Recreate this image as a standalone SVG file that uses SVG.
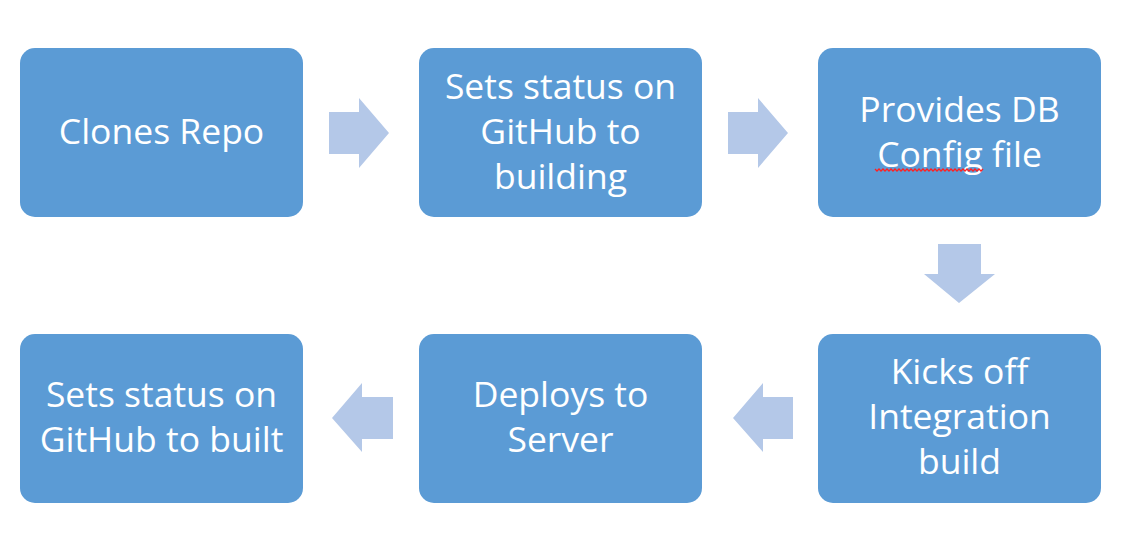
<svg xmlns="http://www.w3.org/2000/svg" width="1127" height="548" viewBox="0 0 1127 548">
<style>
.box{fill:#5B9BD5}
.arr{fill:#B4C8E8}
.t{font-family:"Open Sans","Liberation Sans",sans-serif;font-size:35.5px;fill:#ffffff;text-anchor:middle}
</style>
<rect width="1127" height="548" fill="#ffffff"/>
<g id="n1"><rect class="box" x="20" y="48" width="283" height="169" rx="15"/><text class="t" x="161.5" y="144">Clones Repo</text></g>
<g id="n2"><rect class="box" x="419" y="48" width="283" height="169" rx="15"/><text class="t" x="560.5" y="99">Sets status on</text><text class="t" x="560.5" y="144">GitHub to</text><text class="t" x="560.5" y="189">building</text></g>
<g id="n3"><rect class="box" x="818" y="48" width="283" height="169" rx="15"/><text class="t" x="959.5" y="121.5">Provides DB</text><text class="t" x="959.5" y="166.5">Config file</text><polyline points="875,169 877,171 879,169 881,171 883,169 885,171 887,169 889,171 891,169 893,171 895,169 897,171 899,169 901,171 903,169 905,171 907,169 909,171 911,169 913,171 915,169 917,171 919,169 921,171 923,169 925,171 927,169 929,171 931,169 933,171 935,169 937,171 939,169 941,171 943,169 945,171 947,169 949,171 951,169 953,171 955,169 957,171 959,169 961,171 963,169 965,171 967,169 969,171 971,169 973,171 975,169 977,171 979,169 981,171 983,169" fill="none" stroke="#FF2020" stroke-width="1.3"/></g>
<g id="n4"><rect class="box" x="818" y="334" width="283" height="169" rx="15"/><text class="t" x="959.5" y="384">Kicks off</text><text class="t" x="959.5" y="429">Integration</text><text class="t" x="959.5" y="474">build</text></g>
<g id="n5"><rect class="box" x="419" y="334" width="283" height="169" rx="15"/><text class="t" x="560.5" y="406.5">Deploys to</text><text class="t" x="560.5" y="451.5">Server</text></g>
<g id="n6"><rect class="box" x="20" y="334" width="283" height="169" rx="15"/><text class="t" x="161.5" y="406.5">Sets status on</text><text class="t" x="161.5" y="451.5">GitHub to built</text></g>
<g id="connectors">
<polygon class="arr" points="329,112 359,112 359,98 389,133 359,168 359,154 329,154"/>
<polygon class="arr" points="728,112 758,112 758,98 788,133 758,168 758,154 728,154"/>
<polygon class="arr" points="938,244 981,244 981,274 995,274 959,303 924,274 938,274"/>
<polygon class="arr" points="793,397 763,397 763,383 733,418 763,452 763,439 793,439"/>
<polygon class="arr" points="393,397 362,397 362,383 332,418 362,452 362,439 393,439"/>
</g>
</svg>
